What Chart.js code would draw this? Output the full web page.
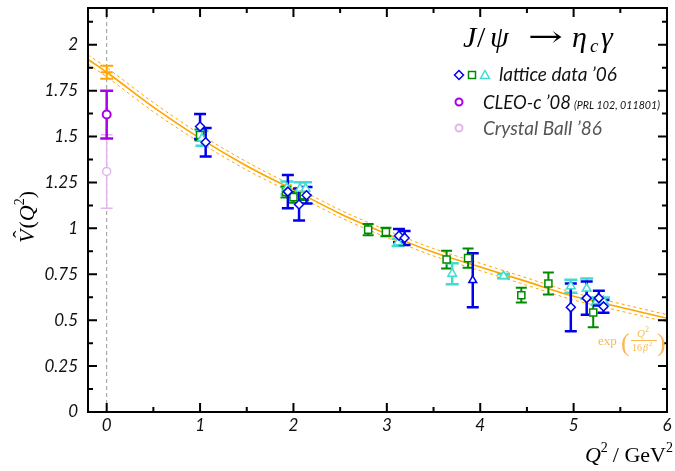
<!DOCTYPE html>
<html><head><meta charset="utf-8">
<script src="https://cdn.jsdelivr.net/npm/chart.js@4"></script>
<style>html,body{margin:0;padding:0;background:#fff}canvas{display:block}</style>
</head><body>
<canvas id="c" width="675" height="471"></canvas>
<script>
// ---------- data ----------
const xTickLabels = ['0','1','2','3','4','5','6'];
const xTickValues = [0,1,2,3,4,5,6];
const xMinorValues = [0.5,1.5,2.5,3.5,4.5,5.5];
const yTickLabels = ['0','0.25','0.5','0.75','1','1.25','1.5','1.75','2'];
const yTickValues = [0,0.25,0.5,0.75,1,1.25,1.5,1.75,2];
const yMinorValues = [0.125,0.375,0.625,0.875,1.125,1.375,1.625,1.875,2.125];

// fit curve exp(-Q^2/16beta^2) and its error band
const curveX  = [-0.2, 0, 0.5, 1, 1.5, 2, 2.5, 3, 3.5, 4, 4.5, 5, 5.5, 6];
const curveY  = [1.92, 1.85, 1.66, 1.49, 1.34, 1.21, 1.08, 0.97, 0.87, 0.79, 0.71, 0.63, 0.57, 0.51];
const curveUp = [1.945, 1.875, 1.685, 1.513, 1.362, 1.231, 1.10, 0.99, 0.89, 0.81, 0.73, 0.65, 0.59, 0.53];
const curveLo = [1.895, 1.825, 1.635, 1.467, 1.318, 1.189, 1.06, 0.95, 0.85, 0.77, 0.69, 0.61, 0.55, 0.49];

// fitted value at Q^2 = 0
const fitPtX = [0], fitPtY = [1.85], fitPtErr = [0.035];
// CLEO-c '08
const cleoX = [0], cleoY = [1.62], cleoErr = [0.13];
// Crystal Ball '86
const cbX = [0], cbY = [1.31], cbErr = [0.2];

// lattice data '06 - blue
const latBlueX   = [1.00, 1.06, 1.94, 2.06, 2.14, 3.13, 3.19, 3.92, 4.97, 5.14, 5.27, 5.32];
const latBlueY   = [1.555, 1.469, 1.20, 1.13, 1.18, 0.96, 0.948, 0.717, 0.57, 0.62, 0.62, 0.575];
const latBlueErr = [0.068, 0.078, 0.09, 0.087, 0.045, 0.036, 0.038, 0.147, 0.13, 0.09, 0.04, 0.035];
const latBlueShape = ['rectRot','rectRot','rectRot','rectRot','rectRot','rectRot','rectRot','triangle','rectRot','rectRot','rectRot','rectRot'];
// lattice data '06 - green
const latGreenX   = [1.00, 1.92, 2.00, 2.11, 2.80, 2.99, 3.64, 3.87, 4.44, 4.73, 5.21];
const latGreenY   = [1.508, 1.198, 1.17, 1.18, 0.993, 0.98, 0.83, 0.838, 0.636, 0.70, 0.542];
const latGreenErr = [0.03, 0.03, 0.03, 0.025, 0.031, 0.023, 0.048, 0.052, 0.04, 0.06, 0.08];
// lattice data '06 - cyan
const latCyanX   = [1.02, 1.93, 2.07, 2.13, 3.12, 3.70, 4.25, 4.97, 5.14, 5.25, 5.32];
const latCyanY   = [1.49, 1.22, 1.216, 1.216, 0.924, 0.753, 0.74, 0.685, 0.672, 0.604, 0.604];
const latCyanErr = [0.04, 0.035, 0.035, 0.035, 0.02, 0.057, 0.012, 0.035, 0.055, 0.02, 0.02];

// ---------- styles ----------
const C_BLUE = '#0000ee', C_GREEN = '#008a00', C_CYAN = '#40dcd0',
      C_PURPLE = '#aa00e8', C_CB = '#e2b6ea', C_ORANGE = '#ffa500', C_ORANGE_TXT = '#f8b955';
const SERIF = '"Liberation Serif","DejaVu Serif",serif';
const SANS = 'Lato,"Open Sans",sans-serif';

const pts = (xs, ys) => xs.map((x, i) => ({x, y: ys[i]}));

function drawErr(chart, ctx, xs, ys, es, color, lw, cap) {
  const X = chart.scales.x, Y = chart.scales.y;
  ctx.save(); ctx.strokeStyle = color; ctx.lineWidth = lw; ctx.setLineDash([]);
  for (let i = 0; i < xs.length; i++) {
    const px = X.getPixelForValue(xs[i]);
    const y1 = Y.getPixelForValue(ys[i] + es[i]);
    const y2 = Y.getPixelForValue(ys[i] - es[i]);
    ctx.beginPath();
    ctx.moveTo(px, y1); ctx.lineTo(px, y2);
    ctx.moveTo(px - cap / 2, y1); ctx.lineTo(px + cap / 2, y1);
    ctx.moveTo(px - cap / 2, y2); ctx.lineTo(px + cap / 2, y2);
    ctx.stroke();
  }
  ctx.restore();
}

function runs(ctx, list, x, y) {
  let cx = x;
  for (const r of list) {
    ctx.font = r.font;
    ctx.fillText(r.t, cx, y + (r.dy || 0));
    cx += ctx.measureText(r.t).width + (r.gap || 0);
  }
  return cx - x;
}
function runsWidth(ctx, list) {
  let w = 0;
  for (const r of list) { ctx.font = r.font; w += ctx.measureText(r.t).width + (r.gap || 0); }
  return w;
}

const decor = {
  id: 'decor',
  beforeDatasetsDraw(chart) {
    const ctx = chart.ctx, a = chart.chartArea, X = chart.scales.x;
    const px = X.getPixelForValue(0);
    ctx.save(); ctx.strokeStyle = '#999'; ctx.lineWidth = 1; ctx.setLineDash([4, 3]);
    ctx.beginPath(); ctx.moveTo(px, a.top); ctx.lineTo(px, a.bottom); ctx.stroke();
    ctx.restore();
  },
  afterDatasetDraw(chart, args) {
    const ds = chart.data.datasets[args.index];
    if (!ds.fitMain) return;
    const ctx = chart.ctx;
    drawErr(chart, ctx, cbX, cbY, cbErr, C_CB, 1.5, 12);
    drawErr(chart, ctx, cleoX, cleoY, cleoErr, C_PURPLE, 2.5, 13);
    drawErr(chart, ctx, fitPtX, fitPtY, fitPtErr, C_ORANGE, 2, 13);
    drawErr(chart, ctx, latGreenX, latGreenY, latGreenErr, C_GREEN, 2, 11);
    drawErr(chart, ctx, latCyanX, latCyanY, latCyanErr, C_CYAN, 2.5, 13);
    drawErr(chart, ctx, latBlueX, latBlueY, latBlueErr, C_BLUE, 2.5, 12);
  },
  afterDraw(chart) {
    const ctx = chart.ctx, a = chart.chartArea, X = chart.scales.x, Y = chart.scales.y;
    ctx.save();
    // frame
    ctx.strokeStyle = '#000'; ctx.lineWidth = 2; ctx.setLineDash([]);
    ctx.strokeRect(a.left, a.top, a.right - a.left, a.bottom - a.top);
    ctx.beginPath();
    for (const v of xTickValues) { const p = X.getPixelForValue(v);
      ctx.moveTo(p, a.bottom); ctx.lineTo(p, a.bottom - 9); ctx.moveTo(p, a.top); ctx.lineTo(p, a.top + 9); }
    for (const v of xMinorValues) { const p = X.getPixelForValue(v);
      ctx.moveTo(p, a.bottom); ctx.lineTo(p, a.bottom - 5); ctx.moveTo(p, a.top); ctx.lineTo(p, a.top + 5); }
    for (const v of yTickValues) { const p = Y.getPixelForValue(v);
      ctx.moveTo(a.left, p); ctx.lineTo(a.left + 9, p); ctx.moveTo(a.right, p); ctx.lineTo(a.right - 9, p); }
    for (const v of yMinorValues) { const p = Y.getPixelForValue(v);
      ctx.moveTo(a.left, p); ctx.lineTo(a.left + 5, p); ctx.moveTo(a.right, p); ctx.lineTo(a.right - 5, p); }
    ctx.stroke();

    // tick labels
    ctx.fillStyle = '#111';
    ctx.font = 'italic 17px ' + SANS;
    ctx.textAlign = 'center'; ctx.textBaseline = 'middle';
    xTickValues.forEach((v, i) => ctx.fillText(xTickLabels[i], X.getPixelForValue(v), a.bottom + 14));
    ctx.textAlign = 'right';
    yTickValues.forEach((v, i) => ctx.fillText(yTickLabels[i], a.left - 10, Y.getPixelForValue(v)));

    // axis titles
    ctx.textAlign = 'left'; ctx.textBaseline = 'alphabetic'; ctx.fillStyle = '#000';
    const xt = [
      {t: 'Q', font: 'italic 22px ' + SERIF},
      {t: '2', font: '14px ' + SERIF, dy: -10, gap: 5},
      {t: '/ GeV', font: '22px ' + SERIF},
      {t: '2', font: '14px ' + SERIF, dy: -10}
    ];
    runs(ctx, xt, 673 - runsWidth(ctx, xt), 462);

    const yt = [
      {t: 'V', font: 'italic 22px ' + SERIF, gap: 1},
      {t: '(', font: '22px ' + SERIF},
      {t: 'Q', font: 'italic 22px ' + SERIF},
      {t: '2', font: '14px ' + SERIF, dy: -10},
      {t: ')', font: '22px ' + SERIF}
    ];
    ctx.save();
    ctx.translate(34, 217); ctx.rotate(-Math.PI / 2);
    const yw = runsWidth(ctx, yt);
    runs(ctx, yt, -yw / 2, 0);
    ctx.font = '22px ' + SERIF;
    ctx.fillText('\u02C6', -yw / 2 + 5, -6);
    ctx.restore();

    // title J/psi -> eta_c gamma
    const tf = 'italic 30px ' + SERIF, tu = '30px ' + SERIF;
    ctx.font = tf; ctx.fillText('J', 463, 47);
    ctx.font = tu; ctx.fillText('/', 477, 47);
    ctx.font = tf; ctx.fillText('\u03C8', 490, 47);
    ctx.save();
    ctx.font = '28px "DejaVu Serif",serif';
    const aw = ctx.measureText('\u2192').width;
    ctx.translate(528, 46); ctx.scale(35 / aw, 1);
    ctx.fillText('\u2192', 0, 0);
    ctx.restore();
    ctx.font = tf; ctx.fillText('\u03B7', 572, 47);
    ctx.font = 'italic 19px ' + SERIF; ctx.fillText('c', 590, 52);
    ctx.font = tf; ctx.fillText('\u03B3', 601, 47);

    // legend markers
    ctx.lineWidth = 1.5;
    ctx.strokeStyle = C_BLUE; ctx.fillStyle = '#fff';
    ctx.beginPath(); ctx.moveTo(459, 70.5); ctx.lineTo(463.5, 75); ctx.lineTo(459, 79.5); ctx.lineTo(454.5, 75); ctx.closePath(); ctx.fill(); ctx.stroke();
    ctx.strokeStyle = C_GREEN; ctx.strokeRect(468.5, 71.5, 7, 7);
    ctx.strokeStyle = C_CYAN;
    ctx.beginPath(); ctx.moveTo(485, 70.5); ctx.lineTo(489.5, 78.5); ctx.lineTo(480.5, 78.5); ctx.closePath(); ctx.stroke();
    ctx.lineWidth = 2;
    ctx.strokeStyle = C_PURPLE; ctx.beginPath(); ctx.arc(459, 102, 3.5, 0, 2 * Math.PI); ctx.stroke();
    ctx.strokeStyle = C_CB; ctx.beginPath(); ctx.arc(459, 128, 3.5, 0, 2 * Math.PI); ctx.stroke();

    // legend texts
    ctx.fillStyle = '#111';
    ctx.font = 'italic 19px ' + SANS; ctx.fillText('lattice data \u201906', 499, 81, 123);
    ctx.fillText('CLEO-c \u201908', 483, 109, 88);
    ctx.font = 'italic 11px ' + SANS; ctx.fillText('(PRL 102, 011801)', 574, 109, 86);
    ctx.fillStyle = '#555';
    ctx.font = 'italic 19px ' + SANS; ctx.fillText('Crystal Ball \u201986', 483, 135, 120);

    // fit label
    ctx.fillStyle = C_ORANGE_TXT; ctx.strokeStyle = C_ORANGE_TXT;
    ctx.font = '13px ' + SERIF; ctx.fillText('exp', 598, 345);
    ctx.font = '26px ' + SERIF; ctx.fillText('(', 621, 351); ctx.fillText(')', 657, 351);
    ctx.font = 'italic 11px ' + SERIF; ctx.fillText('Q', 637, 337);
    ctx.font = '8px ' + SERIF; ctx.fillText('2', 645, 332);
    ctx.lineWidth = 1; ctx.beginPath(); ctx.moveTo(631, 340.5); ctx.lineTo(657, 340.5); ctx.stroke();
    ctx.font = '10px ' + SERIF; ctx.fillText('16', 632, 351);
    ctx.font = 'italic 10px ' + SERIF; ctx.fillText('\u03B2', 643, 351);
    ctx.font = '7px ' + SERIF; ctx.fillText('2', 649, 346);
    ctx.restore();
  }
};

const lineBase = {type: 'line', pointRadius: 0, borderColor: C_ORANGE, fill: false,
  cubicInterpolationMode: 'monotone', showLine: true};

new Chart(document.getElementById('c'), {
  type: 'scatter',
  data: {
    datasets: [
      Object.assign({}, lineBase, {data: pts(curveX, curveUp), borderWidth: 1, borderDash: [3, 3], order: 12}),
      Object.assign({}, lineBase, {data: pts(curveX, curveLo), borderWidth: 1, borderDash: [3, 3], order: 11}),
      Object.assign({}, lineBase, {data: pts(curveX, curveY), borderWidth: 1.6, order: 10, fitMain: true}),
      {data: pts(cbX, cbY), pointStyle: 'circle', pointRadius: 4, borderColor: C_CB, backgroundColor: '#fff', borderWidth: 1.5, order: 6},
      {data: pts(cleoX, cleoY), pointStyle: 'circle', pointRadius: 4, borderColor: C_PURPLE, backgroundColor: '#fff', borderWidth: 2, order: 5},
      {data: pts(fitPtX, fitPtY), pointStyle: 'line', pointRadius: 6, borderColor: C_ORANGE, borderWidth: 2, order: 4},
      {data: pts(latGreenX, latGreenY), pointStyle: 'rect', pointRadius: 5, borderColor: C_GREEN, backgroundColor: '#fff', borderWidth: 1.5, order: 3},
      {data: pts(latCyanX, latCyanY), pointStyle: 'triangle', pointRadius: 5, borderColor: C_CYAN, backgroundColor: '#fff', borderWidth: 1.5, order: 2},
      {data: pts(latBlueX, latBlueY), pointStyle: latBlueShape, pointRadius: 4.5, borderColor: C_BLUE, backgroundColor: '#fff', borderWidth: 1.5, order: 1}
    ]
  },
  options: {
    responsive: false, animation: false, events: [],
    layout: {padding: {left: 88, right: 4, top: 4, bottom: 59}},
    scales: {
      x: {type: 'linear', min: -0.2, max: 6, display: false},
      y: {type: 'linear', min: 0, max: 2.2, display: false}
    },
    plugins: {legend: {display: false}, tooltip: {enabled: false}}
  },
  plugins: [decor]
});
</script>
</body></html>
